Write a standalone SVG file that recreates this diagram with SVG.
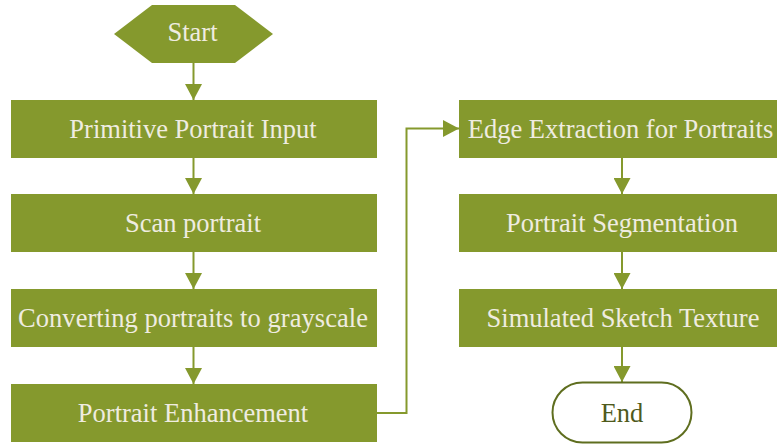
<svg xmlns="http://www.w3.org/2000/svg" width="777" height="446" viewBox="0 0 777 446">
<defs>
<marker id="ah" markerWidth="17" markerHeight="17" viewBox="0 0 16 17" refX="16" refY="8.5" orient="auto" markerUnits="userSpaceOnUse">
<path d="M0,0 L16,8.5 L0,17 Z" fill="#85992d"/>
</marker>
<style>
.box{fill:#85992d}
.t{font-family:"Liberation Serif","Times New Roman",serif;font-size:26.5px;fill:#efece0;text-anchor:middle}
.te{font-family:"Liberation Serif","Times New Roman",serif;font-size:26.5px;fill:#4f5a1c;text-anchor:middle}
.c{fill:none;stroke:#85992d;stroke-width:2;marker-end:url(#ah)}
</style>
</defs>
<rect width="777" height="446" fill="#ffffff"/>
<g id="connectors">
<line class="c" x1="193.5" y1="63" x2="193.5" y2="100"/>
<line class="c" x1="193.5" y1="158" x2="193.5" y2="194"/>
<line class="c" x1="193.5" y1="252" x2="193.5" y2="289"/>
<line class="c" x1="193.5" y1="347" x2="193.5" y2="384"/>
<polyline class="c" points="377,413 406.5,413 406.5,128.5 459,128.5"/>
<line class="c" x1="622" y1="158" x2="622" y2="194"/>
<line class="c" x1="622" y1="252" x2="622" y2="289"/>
<line class="c" x1="622" y1="347" x2="622" y2="382"/>
</g>
<g id="start">
<polygon class="box" points="114,34 152,5 235,5 273,34 235,63 152,63"/>
<text class="t" x="192.5" y="41">Start</text>
</g>
<g id="input">
<rect class="box" x="11" y="100" width="366" height="58"/>
<text class="t" x="193" y="137.5">Primitive Portrait Input</text>
</g>
<g id="scan">
<rect class="box" x="11" y="194" width="366" height="58"/>
<text class="t" x="193" y="232">Scan portrait</text>
</g>
<g id="gray">
<rect class="box" x="11" y="289" width="366" height="58"/>
<text class="t" x="193" y="327" textLength="350" lengthAdjust="spacing">Converting portraits to grayscale</text>
</g>
<g id="enhance">
<rect class="box" x="11" y="384" width="366" height="58"/>
<text class="t" x="193" y="421.5">Portrait Enhancement</text>
</g>
<g id="edge">
<rect class="box" x="459" y="100" width="330" height="58"/>
<text class="t" x="620.5" y="137.5">Edge Extraction for Portraits</text>
</g>
<g id="segment">
<rect class="box" x="459" y="194" width="330" height="58"/>
<text class="t" x="622" y="232">Portrait Segmentation</text>
</g>
<g id="texture">
<rect class="box" x="459" y="289" width="330" height="58"/>
<text class="t" x="623" y="327">Simulated Sketch Texture</text>
</g>
<g id="end">
<rect x="552.5" y="382.5" width="139" height="60" rx="30" ry="30" fill="#ffffff" stroke="#5f6e1f" stroke-width="2"/>
<text class="te" x="622" y="421.5">End</text>
</g>
</svg>
